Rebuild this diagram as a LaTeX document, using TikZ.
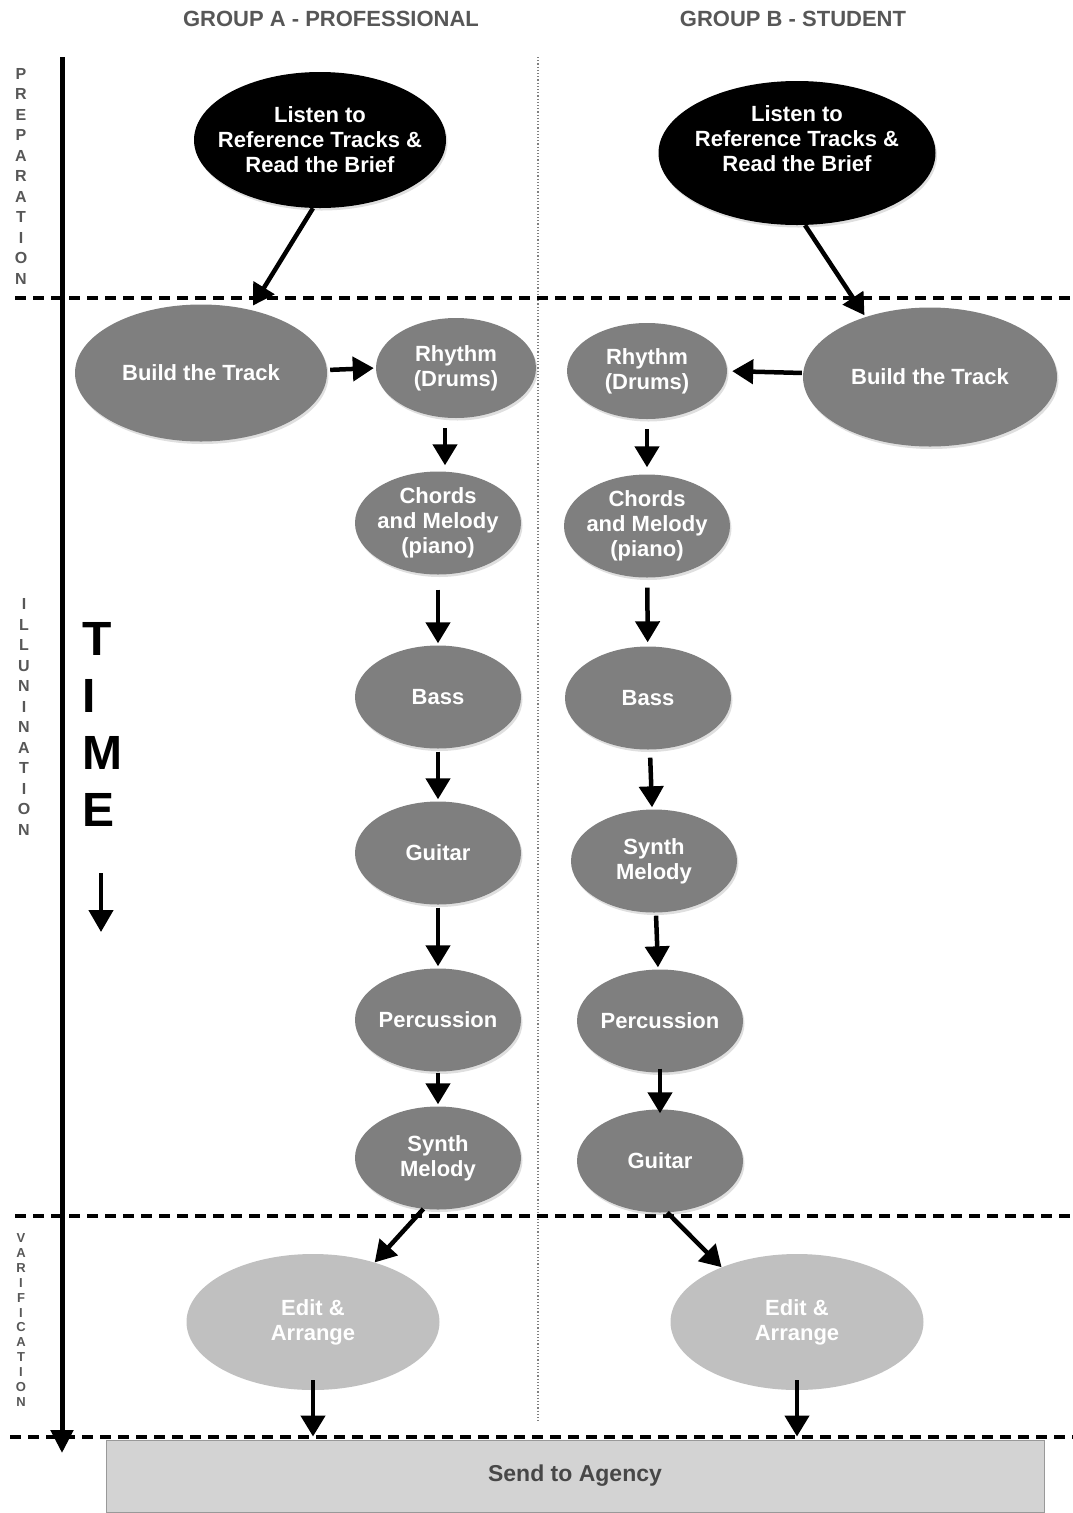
\documentclass[tikz,border=0pt]{standalone}
\usepackage{fontspec}
\setmainfont{Liberation Sans}
\usepackage{tikz}
\usetikzlibrary{shapes.geometric,arrows.meta,shadows,positioning}
\usepackage{xcolor}
\definecolor{blobgray}{HTML}{7F7F7F}
\definecolor{editgray}{HTML}{C0C0C0}
\definecolor{sendgray}{HTML}{D3D3D3}
\definecolor{titlegray}{HTML}{575757}

\begin{document}
\begin{tikzpicture}[x=1pt, y=-1pt,
  blobtext/.style={text=white, font=\fontsize{22}{25}\selectfont\bfseries, align=center, inner sep=0pt},
  softshadow/.style={drop shadow={shadow xshift=1.5pt, shadow yshift=-2.5pt, opacity=0.25}},
  listen/.style={ellipse, fill=black, inner sep=0pt, minimum width=252pt, minimum height=136pt, softshadow},
  blob/.style={ellipse, fill=blobgray, inner sep=0pt, minimum width=166pt, minimum height=103pt, softshadow,
    label={[blobtext]center:{#1}}},
  bigblob/.style={blob={#1}, minimum width=252pt, minimum height=137pt},
  editblob/.style={ellipse, fill=editgray, inner sep=0pt, minimum width=253pt, minimum height=136pt,
    label={[blobtext]center:{#1}}},
  sendbox/.style={rectangle, fill=sendgray, draw=gray!80, line width=1pt, minimum width=938pt, minimum height=72pt,
    text=black!72, font=\fontsize{23}{26}\selectfont\bfseries},
  grouptitle/.style={text=titlegray, font=\fontsize{22}{24}\selectfont\bfseries, inner sep=0pt},
  sidetxt/.style={text=titlegray, align=center, inner sep=0pt, font=\fontsize{16}{20.5}\selectfont\bfseries},
  flow/.style={line width=4.5pt, -{Triangle[width=24pt,length=21pt]}, shorten <=3pt, shorten >=2pt},
  phase/.style={line width=4.5pt, dash pattern=on 11pt off 7pt},
  ]
  \useasboundingbox (0,0) rectangle (1073,1513);

  % Headings
  \node[grouptitle] (titleA) at (331,19) {GROUP A - PROFESSIONAL};
  \node[grouptitle] (titleB) at (793,19) {GROUP B - STUDENT};

  % Phase names down the left side
  \node[sidetxt] (prep) at (21,176) {P\\R\\E\\P\\A\\R\\A\\T\\I\\O\\N};
  \node[sidetxt] (illu) at (24,717) {I\\L\\L\\U\\N\\I\\N\\A\\T\\I\\O\\N};
  \node[sidetxt, font=\fontsize{13}{14.9}\selectfont\bfseries] (vari) at (21,1320) {V\\A\\R\\I\\F\\I\\C\\A\\T\\I\\O\\N};

  % Time axis
  \draw[line width=5pt, -{Triangle[width=22pt,length=23pt]}] (62,57) -- (62,1453);
  \node[align=left, anchor=west, inner sep=0pt, font=\fontsize{48}{57}\selectfont\bfseries] (timeword) at (82,724) {T\\I\\M\\E};
  \coordinate (timetop) at (101,873);
  \coordinate (timebot) at (101,932);
  \draw[line width=4.5pt, -{Triangle[width=24pt,length=22pt]}] (timetop) -- (timebot);

  % Column divider
  \draw[gray, line width=1.2pt, dotted] (538,57) -- (538,1422);

  % Send box
  \node[sendbox] (send) at (575,1476) {Send to Agency};

  % Phase borders
  \draw[phase] (15,298) -- (1073,298);
  \draw[phase] (15,1216) -- (1073,1216);
  \draw[phase] (10,1437) -- (1073,1437);

  % Group A
  \node[listen, label={[blobtext]center:{Listen to\\Reference Tracks \&\\Read the Brief}}] (listenA) at (320,140) {};
  \node[bigblob={Build the Track}] (buildA) at (201,373) {};
  \node[blob={Rhythm\\(Drums)}, minimum width=160pt, minimum height=100pt] (rhyA) at (456,368) {};
  \node[blob={Chords\\and Melody\\(piano)}] (chA) at (438,523) {};
  \node[blob={Bass}] (bassA) at (438,697) {};
  \node[blob={Guitar}] (guitA) at (438,853) {};
  \node[blob={Percussion}] (percA) at (438,1020) {};
  \node[blob={Synth\\Melody}] (synA) at (438,1158) {};
  \node[editblob={Edit \&\\Arrange}] (editA) at (313,1322) {};

  % Group B
  \node[listen, minimum width=277pt, minimum height=144pt,
    label={[blobtext, yshift=14pt]center:{Listen to\\Reference Tracks \&\\Read the Brief}}] (listenB) at (797,153) {};
  \node[bigblob={Build the Track}, minimum width=254pt, minimum height=139pt] (buildB) at (930,377) {};
  \node[blob={Rhythm\\(Drums)}, minimum width=160pt, minimum height=96pt] (rhyB) at (647,371) {};
  \node[blob={Chords\\and Melody\\(piano)}] (chB) at (647,526) {};
  \node[blob={Bass}] (bassB) at (648,698) {};
  \node[blob={Synth\\Melody}] (synB) at (654,861) {};
  \node[blob={Percussion}] (percB) at (660,1021) {};
  \node[blob={Guitar}] (guitB) at (660,1161) {};
  \node[editblob={Edit \&\\Arrange}] (editB) at (797,1322) {};

  % Flow, group A
  \draw[flow, shorten <=0pt, shorten >=5pt] ([xshift=-7pt]listenA.south) -- (buildA.52);
  \draw[flow] ([yshift=3pt]buildA.east) -- (rhyA.west);
  \draw[flow, shorten <=10pt, shorten >=6pt] ([xshift=-11pt]rhyA.south) -- ([xshift=7pt]chA.north);
  \draw[flow, shorten <=15pt] (chA) -- (bassA);
  \draw[flow] (bassA) -- (guitA);
  \draw[flow] (guitA) -- (percA);
  \draw[flow, shorten <=1pt] (percA) -- (synA);
  \draw[flow, shorten <=0pt, shorten >=0pt] (synA.254) -- (editA.44);
  \draw[flow, shorten <=-10pt, shorten >=3pt] (editA.south) -- (editA.south |- send.north);

  % Flow, group B
  \draw[flow, shorten <=0pt, shorten >=2pt] ([xshift=8pt]listenB.south) -- (buildB.137);
  \draw[flow, shorten <=1pt, shorten >=5pt] ([yshift=4pt]buildB.west) -- (rhyB.east);
  \draw[flow, shorten <=10pt, shorten >=7pt] (rhyB) -- (chB);
  \draw[flow, shorten <=10pt, shorten >=4pt] (chB) -- (bassB);
  \draw[flow, shorten <=8pt] (bassB) -- (synB);
  \draw[flow] (synB) -- (percB);
  \draw[flow, shorten <=-4pt, shorten >=-4pt] (percB) -- (guitB);
  \draw[flow, shorten <=0pt, shorten >=0pt] (guitB.278) -- (editB.144);
  \draw[flow, shorten <=-10pt, shorten >=3pt] (editB.south) -- (editB.south |- send.north);
\end{tikzpicture}
\end{document}
